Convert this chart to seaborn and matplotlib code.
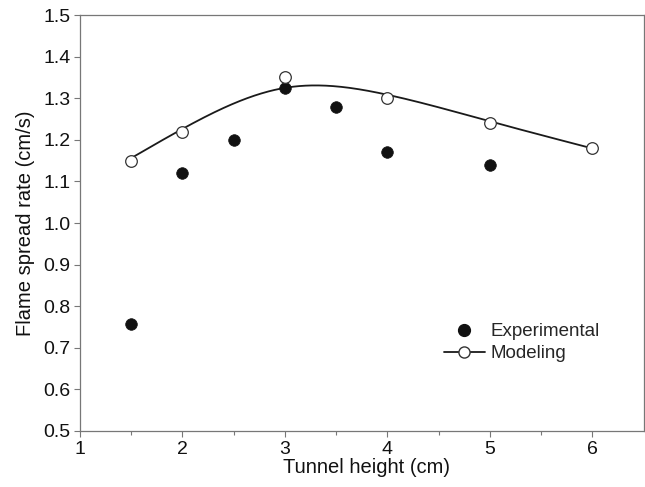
import matplotlib
matplotlib.use("Agg")
import matplotlib.pyplot as plt
import seaborn as sns
import pandas as pd
import numpy as np
from matplotlib.lines import Line2D

exp_x = [1.5, 2.0, 2.5, 3.0, 3.5, 4.0, 5.0]
exp_y = [0.757, 1.12, 1.20, 1.325, 1.28, 1.17, 1.14]
mod_x = [1.5, 2.0, 3.0, 4.0, 5.0, 6.0]
mod_y = [1.15, 1.22, 1.35, 1.30, 1.24, 1.18]

sns.set_theme(style="ticks")
plt.rcParams['font.family'] = ['Liberation Sans', 'DejaVu Sans']

exp_df = pd.DataFrame({"x": exp_x, "y": exp_y})
mod_df = pd.DataFrame({"x": mod_x, "y": mod_y})


def smoothing_spline(xs, ys, lam, h=0.01):
    """Penalised (Whittaker) smoothing of the model points, like a smoothing spline."""
    grid = np.round(np.arange(xs[0], xs[-1] + h / 2, h), 6)
    n = len(grid)
    W = np.zeros(n)
    z = np.zeros(n)
    for xv, yv in zip(xs, ys):
        i = int(np.argmin(np.abs(grid - xv)))
        W[i] = 1.0
        z[i] = yv
    D = np.diff(np.eye(n), 2, axis=0)
    A = np.diag(W) + lam * D.T @ D / h ** 3
    return grid, np.linalg.solve(A, W * z)


gx, gy = smoothing_spline(mod_x, mod_y, lam=0.1)
fit_df = pd.DataFrame({"x": gx, "y": gy})

fig = plt.figure(figsize=(6.45, 4.87), dpi=100)
ax = fig.add_axes([0.124, 0.115, 0.874, 0.854])

sns.lineplot(data=fit_df, x="x", y="y", color="#1a1a1a", lw=1.3, ax=ax, zorder=2)
sns.scatterplot(data=exp_df, x="x", y="y", color="#111111", s=70,
                edgecolor="#111111", linewidth=0.5, ax=ax, zorder=3)
sns.scatterplot(data=mod_df, x="x", y="y", color="white", s=70,
                edgecolor="#333333", linewidth=0.9, ax=ax, zorder=4)

ax.set_xlim(1, 6.5)
ax.set_ylim(0.5, 1.5)
ax.set_xticks([1, 2, 3, 4, 5, 6])
ax.set_xticks([1.5, 2.5, 3.5, 4.5, 5.5], minor=True)
ax.set_yticks([0.5 + 0.1 * i for i in range(11)])
ax.set_yticklabels([f"{0.5 + 0.1 * i:.1f}" for i in range(11)])
ax.tick_params(axis="both", which="major", direction="out", length=4, width=0.8,
               color="#777777", labelsize=14, labelcolor="#111111", pad=3)
ax.tick_params(axis="x", which="minor", direction="out", length=3, width=0.8, color="#777777")
for sp in ax.spines.values():
    sp.set_visible(True)
    sp.set_color("#777777")
    sp.set_linewidth(0.9)

ax.set_xlabel("Tunnel height (cm)", fontsize=14.5, color="#111111", labelpad=3)
ax.xaxis.set_label_coords(0.508, -0.065)
ax.set_ylabel("Flame spread rate (cm/s)", fontsize=14.5, color="#111111", labelpad=6)

handles = [
    Line2D([], [], linestyle="none", marker="o", markersize=8.5, markerfacecolor="#111111",
           markeredgecolor="#111111"),
    Line2D([], [], color="#1a1a1a", lw=1.3, marker="o", markersize=8,
           markerfacecolor="white", markeredgecolor="#333333"),
]
ax.legend(handles, ["Experimental", "Modeling"], loc="center left",
          bbox_to_anchor=(0.615, 0.212), frameon=False, fontsize=13.5,
          handlelength=2.2, handletextpad=0.3, labelspacing=0.25)

fig.savefig("out.png", dpi=100)
